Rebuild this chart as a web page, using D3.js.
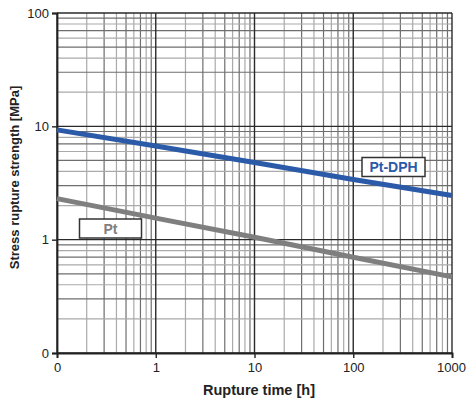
<!DOCTYPE html>
<html>
<head>
<meta charset="utf-8">
<script src="https://cdn.jsdelivr.net/npm/d3@7"></script>
<style>
  html, body { margin: 0; padding: 0; background: #fff; }
  svg text { font-family: "Liberation Sans", Arial, sans-serif; }
</style>
</head>
<body>
<div id="chart"></div>
<script>
(function() {
    'use strict';

    // Data
    var timeTicks = [0.1, 1, 10, 100, 1000];
    var timeTickLabels = ['0', '1', '10', '100', '1000'];
    var strengthTicks = [0.1, 1, 10, 100];
    var strengthTickLabels = ['0', '1', '10', '100'];

    var ptDphTime = [0.1, 1, 10, 100, 1000];
    var ptDphStrength = [9.3, 6.7, 4.8, 3.4, 2.45];
    var ptTime = [0.1, 1, 10, 100, 1000];
    var ptStrength = [2.3, 1.55, 1.05, 0.7, 0.47];

    var width = 466, height = 403;
    var margin = { left: 57, right: 14, top: 13, bottom: 50 };

    var svg = d3.select('#chart').append('svg')
        .attr('width', width)
        .attr('height', height);

    var x = d3.scaleLog().domain([0.1, 1000]).range([margin.left, width - margin.right]);
    var y = d3.scaleLog().domain([0.1, 100]).range([height - margin.bottom, margin.top]);

    // Minor values between decades
    function minors(lo, hi) {
        var out = [];
        for (var dec = lo; dec < hi; dec *= 10) {
            for (var m = 2; m <= 9; m++) out.push({ v: dec * m, m: m });
        }
        return out;
    }

    var grid = svg.append('g');
    var x0 = x.range()[0], x1 = x.range()[1];
    var y0 = y.range()[0], y1 = y.range()[1];

    function minorColor(d) { return d.m % 2 === 0 ? '#aaaaaa' : '#6e6e6e'; }

    grid.selectAll('.vminor')
        .data(minors(0.1, 1000))
        .join('line')
        .attr('x1', function(d) { return x(d.v); })
        .attr('x2', function(d) { return x(d.v); })
        .attr('y1', y1).attr('y2', y0)
        .attr('stroke', minorColor)
        .attr('stroke-width', 1.2);

    grid.selectAll('.hminor')
        .data(minors(0.1, 100))
        .join('line')
        .attr('y1', function(d) { return y(d.v); })
        .attr('y2', function(d) { return y(d.v); })
        .attr('x1', x0).attr('x2', x1)
        .attr('stroke', minorColor)
        .attr('stroke-width', 1.2);

    // Major grid
    grid.selectAll('.vmajor')
        .data(timeTicks)
        .join('line')
        .attr('x1', function(d) { return x(d); })
        .attr('x2', function(d) { return x(d); })
        .attr('y1', y1).attr('y2', y0)
        .attr('stroke', '#2a2a2a')
        .attr('stroke-width', 1.4);

    grid.selectAll('.hmajor')
        .data(strengthTicks)
        .join('line')
        .attr('y1', function(d) { return y(d); })
        .attr('y2', function(d) { return y(d); })
        .attr('x1', x0).attr('x2', x1)
        .attr('stroke', '#2a2a2a')
        .attr('stroke-width', 1.4);

    // Axes
    var xAxis = d3.axisBottom(x)
        .tickValues(timeTicks)
        .tickFormat(function(d, i) { return timeTickLabels[i]; })
        .tickSize(5)
        .tickPadding(5);
    var yAxis = d3.axisLeft(y)
        .tickValues(strengthTicks)
        .tickFormat(function(d, i) { return strengthTickLabels[i]; })
        .tickSize(5)
        .tickPadding(3);

    var gx = svg.append('g')
        .attr('transform', 'translate(0,' + y0 + ')')
        .call(xAxis);
    var gy = svg.append('g')
        .attr('transform', 'translate(' + x0 + ',0)')
        .call(yAxis);

    [gx, gy].forEach(function(g) {
        g.select('.domain').attr('stroke', '#222').attr('stroke-width', 1.8);
        g.selectAll('.tick line').attr('stroke', '#222').attr('stroke-width', 1.4);
        g.selectAll('.tick text')
            .attr('fill', '#222')
            .style('font-size', '13px');
    });
    // keep the last label inside the page
    gx.selectAll('.tick text').filter(function(d) { return d === 1000; })
        .attr('dx', '-1');

    // Lines
    var line = d3.line()
        .x(function(d) { return x(d[0]); })
        .y(function(d) { return y(d[1]); });

    svg.append('path')
        .datum(d3.zip(ptTime, ptStrength))
        .attr('d', line)
        .attr('fill', 'none')
        .attr('stroke', '#7f7f7f')
        .attr('stroke-width', 5);

    svg.append('path')
        .datum(d3.zip(ptDphTime, ptDphStrength))
        .attr('d', line)
        .attr('fill', 'none')
        .attr('stroke', '#2b5aa8')
        .attr('stroke-width', 5);

    // Labels in boxes
    function boxLabel(cx, cy, w, h, text, color) {
        var g = svg.append('g');
        g.append('rect')
            .attr('x', cx - w / 2).attr('y', cy - h / 2)
            .attr('width', w).attr('height', h)
            .attr('fill', '#fff')
            .attr('stroke', '#333')
            .attr('stroke-width', 1.5);
        g.append('text')
            .attr('x', cx).attr('y', cy)
            .attr('dy', '0.36em')
            .attr('text-anchor', 'middle')
            .attr('fill', color)
            .style('font-size', '14px')
            .style('font-weight', 'bold')
            .text(text);
    }
    boxLabel(393.5, 167, 63, 19, 'Pt-DPH', '#2b5aa8');
    boxLabel(110.5, 228.5, 62, 19, 'Pt', '#7f7f7f');

    // Axis titles
    svg.append('text')
        .attr('x', 259)
        .attr('y', 395)
        .attr('text-anchor', 'middle')
        .attr('fill', '#222')
        .style('font-size', '14.5px')
        .style('font-weight', 'bold')
        .text('Rupture time [h]');

    svg.append('text')
        .attr('transform', 'translate(18.5,177.5) rotate(-90)')
        .attr('text-anchor', 'middle')
        .attr('fill', '#222')
        .style('font-size', '13px')
        .style('font-weight', 'bold')
        .text('Stress rupture strength [MPa]');
})();
</script>
</body>
</html>
